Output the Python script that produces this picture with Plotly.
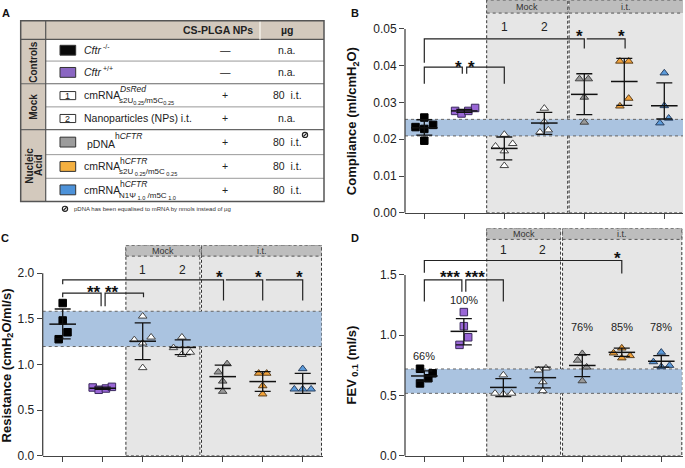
import plotly.graph_objects as go

W, H = 685, 468
FONT = "Liberation Sans, Arial, sans-serif"

# ---------------- data ----------------
group_x = [0, 1, 2, 3, 4, 5, 6]
group_names = ["Cftr-/-", "Cftr+/+", "Mock 1", "Mock 2", "pDNA hCFTR",
               "cmRNA hCFTR s2U/m5C", "cmRNA hCFTR N1Psi/m5C"]

# Panel B - compliance (ml/cmH2O)
comp_ko = [0.0259, 0.0233, 0.0228, 0.0239, 0.0196]
comp_wt = [0.0277, 0.0270, 0.0277, 0.0285]
comp_mock1 = [0.0213, 0.0188, 0.0181, 0.0168, 0.0128]
comp_mock2 = [0.0284, 0.0247, 0.0219, 0.0225]
comp_pdna = [0.0364, 0.0364, 0.0314, 0.0246]
comp_s2u = [0.0412, 0.0412, 0.0311, 0.0290]
comp_n1 = [0.0380, 0.0291, 0.0257, 0.0244]
comp_mean = [0.0231, 0.0277, 0.0175, 0.0244, 0.0322, 0.0357, 0.0291]
comp_upper = [0.0253, 0.0281, 0.0206, 0.0273, 0.0378, 0.0420, 0.0353]
comp_lower = [0.0211, 0.0273, 0.0144, 0.0213, 0.0267, 0.0292, 0.0255]
comp_band = [0.0209, 0.0254]
comp_ticks = [0.0, 0.01, 0.02, 0.03, 0.04, 0.05]

# Panel C - resistance (cmH2O/ml/s)
res_ko = [1.673, 1.482, 1.353, 1.277]
res_wt = [0.748, 0.723, 0.737, 0.755]
res_mock1 = [1.529, 1.270, 1.234, 1.299, 0.964]
res_mock2 = [1.299, 1.183, 1.108, 1.133]
res_pdna = [1.007, 0.917, 0.817, 0.705]
res_s2u = [0.903, 0.903, 0.766, 0.676]
res_n1 = [0.953, 0.730, 0.730, 0.730]
res_mean = [1.442, 0.740, 1.255, 1.187, 0.867, 0.813, 0.791]
res_upper = [1.608, 0.752, 1.457, 1.270, 0.993, 0.921, 0.903]
res_lower = [1.281, 0.728, 1.054, 1.108, 0.737, 0.705, 0.683]
res_band = [1.197, 1.583]
res_ticks = [0.0, 0.5, 1.0, 1.5, 2.0]

# Panel D - FEV0.1 (ml/s)
fev_ko = [0.722, 0.684, 0.643, 0.600]
fev_wt = [1.192, 1.075, 0.983, 0.920]
fev_mock1 = [0.670, 0.518, 0.513, 0.518]
fev_mock2 = [0.711, 0.727, 0.613, 0.539]
fev_pdna = [0.847, 0.792, 0.735, 0.621]
fev_s2u = [0.893, 0.852, 0.830, 0.811]
fev_n1 = [0.858, 0.779, 0.749, 0.738]
fev_mean = [0.662, 1.032, 0.567, 0.648, 0.749, 0.858, 0.784]
fev_upper = [0.705, 1.138, 0.640, 0.735, 0.839, 0.893, 0.830]
fev_lower = [0.620, 0.920, 0.490, 0.564, 0.656, 0.825, 0.735]
fev_band = [0.518, 0.720]
fev_ticks = [0.0, 0.5, 1.0, 1.5]
fev_pct = ["66%", "100%", "", "", "76%", "85%", "78%"]

# Table (panel A)
row_base = ["<i>Cftr</i>", "<i>Cftr</i>", "cmRNA", "Nanoparticles (NPs) i.t.", "pDNA", "cmRNA", "cmRNA"]
row_sup = ["-/-", "+/+", "<i>DsRed</i>", "", "h<i>CFTR</i>", "h<i>CFTR</i>", "h<i>CFTR</i>"]
row_sub = ["", "", "s2U<sub>0.25</sub>/m5C<sub>0.25</sub>", "", "",
           "s2U<sub> 0.25</sub>/m5C<sub> 0.25</sub>", "N1\u03a8<sub> 1.0</sub> /m5C<sub> 1.0</sub>"]
row_nps = ["\u2014", "\u2014", "+", "+", "+", "+", "+"]
row_ug = ["n.a.", "n.a.", "80  i.t.", "n.a.", "80  i.t.", "80  i.t.", "80  i.t."]
row_swatch = ["#0a0a0a", "#8a66c2", "1", "2", "#9c9c9c", "#f4b040", "#4d92d9"]
footnote = "pDNA has been equalised to mRNA by nmols instead of \u00b5g"

# ---------------- style ----------------
marker_styles = [
    dict(symbol="square", color="#000000", line="#000000", size=7.5),
    dict(symbol="square", color="#9966d6", line="#3b2a5e", size=7.5),
    dict(symbol="triangle-up", color="#ffffff", line="#444444", size=7.5),
    dict(symbol="triangle-up", color="#ffffff", line="#444444", size=7.5),
    dict(symbol="triangle-up", color="#999999", line="#444444", size=7.5),
    dict(symbol="triangle-up", color="#f2a23a", line="#5a4020", size=7.5),
    dict(symbol="triangle-up", color="#5b9bdb", line="#2a4060", size=7.5),
]
comp_jit = [[0, -0.22, 0, 0.22, 0], [-0.23, -0.07, 0.1, 0.27], [0, 0.21, -0.22, 0, 0],
            [0, 0, -0.11, 0.1], [-0.12, 0.1, 0, 0], [-0.11, 0.11, 0.11, -0.11], [0, 0, 0.11, -0.11]]
res_jit = [[0, 0, 0.12, -0.1], [-0.25, -0.1, 0.08, 0.23], [0, -0.21, 0, 0.21, 0],
           [-0.02, -0.23, -0.02, 0.19], [0.11, -0.11, 0, 0], [-0.1, 0.1, 0, 0], [0, -0.21, 0, 0.21]]
fev_jit = [[-0.11, 0.21, 0.1, -0.11], [0, 0, 0.11, -0.11], [0, -0.21, 0, 0.21],
           [-0.11, 0.08, 0, 0], [0, -0.12, 0.11, 0], [0, -0.21, 0.21, 0], [0, -0.2, 0.21, 0]]
REGION_DASH = "3px,2px"


def fx(p):
    return p / W


def fy(p):
    return 1 - p / H


panels = [
    dict(key="B", xa="x", ya="y", px_x=(405, 683), px_y=(0, 216), xr=[-0.4825, 6.4675],
         yr=[0, 0.05786], ticks=comp_ticks, fmt=".2f", mock=(1.56, 3.585), it=(3.62, 6.52),
         hdr=0.0543, band=comp_band, lbl_y=0.0505,
         data=[comp_ko, comp_wt, comp_mock1, comp_mock2, comp_pdna, comp_s2u, comp_n1],
         jit=comp_jit, mean=comp_mean, up=comp_upper, lo=comp_lower,
         brackets=[(0, 4.0, 0.0473, 0.0408, 0.0447), (4.06, 5.02, 0.0473, 0.0473, 0.0447),
                   (0, 0.95, 0.0396, 0.0351, 0.0378), (1.06, 2.0, 0.0396, 0.0378, 0.0351)],
         stars=[(3.89, 0.0492, "*"), (4.92, 0.0492, "*"), (0.85, 0.0409, "*"), (1.17, 0.0409, "*")],
         title="<b>Compliance (ml/cmH<sub>2</sub>O)</b>", title_xy=(352, 123),
         letter=(355, 12.7)),
    dict(key="C", xa="x2", ya="y2", px_x=(42.7, 322.7), px_y=(249, 462.7), xr=[-0.5, 6.5],
         yr=[0, 2.306], ticks=res_ticks, fmt=".1f", mock=(1.58, 3.43), it=(3.47, 6.47),
         hdr=2.187, band=res_band, lbl_y=2.04,
         data=[res_ko, res_wt, res_mock1, res_mock2, res_pdna, res_s2u, res_n1],
         jit=res_jit, mean=res_mean, up=res_upper, lo=res_lower,
         brackets=[(0, 4.02, 1.928, 1.88, 1.70), (4.08, 5.0, 1.928, 1.928, 1.70),
                   (5.08, 6.0, 1.928, 1.928, 1.70),
                   (0, 0.96, 1.781, 1.737, 1.637), (1.06, 2.02, 1.781, 1.637, 1.737)],
         stars=[(3.93, 2.007, "*"), (4.9, 2.007, "*"), (5.93, 2.007, "*"),
                (0.79, 1.845, "**"), (1.23, 1.845, "**")],
         title="<b>Resistance (cmH<sub>2</sub>O/ml/s)</b>", title_xy=(7, 371),
         letter=(5, 241.7)),
    dict(key="D", xa="x3", ya="y3", px_x=(405, 683), px_y=(232, 462.7), xr=[-0.49, 6.55],
         yr=[0, 1.885], ticks=fev_ticks, fmt=".1f", mock=(1.58, 3.45), it=(3.50, 6.52),
         hdr=1.795, band=fev_band, lbl_y=1.71,
         data=[fev_ko, fev_wt, fev_mock1, fev_mock2, fev_pdna, fev_s2u, fev_n1],
         jit=fev_jit, mean=fev_mean, up=fev_upper, lo=fev_lower,
         brackets=[(0, 5.0, 1.62, 1.519, 1.511), (0, 0.95, 1.459, 1.28, 1.361),
                   (1.05, 2.0, 1.459, 1.361, 1.28)],
         stars=[(4.9, 1.674, "*"), (0.65, 1.519, "***"), (1.28, 1.519, "***")],
         title="<b>FEV<sub> 0.1</sub> (ml/s)</b>", title_xy=(352, 371),
         letter=(355, 241.7)),
]

fig = go.Figure()
shapes, annots = [], []
layout_axes = {}

for p in panels:
    xa, ya = p["xa"], p["ya"]
    xname = "xaxis" + xa[1:]
    yname = "yaxis" + ya[1:]
    layout_axes[xname] = dict(domain=[fx(p["px_x"][0]), fx(p["px_x"][1])], range=p["xr"], anchor=ya,
                              showgrid=False, zeroline=False, showline=True, linecolor="#444",
                              linewidth=1.3, ticks="outside", ticklen=5, tickwidth=1.2, tickcolor="#444",
                              tickvals=group_x, showticklabels=False, fixedrange=True)
    layout_axes[yname] = dict(domain=[fy(p["px_y"][1]), fy(p["px_y"][0])], range=p["yr"], anchor=xa,
                              showgrid=False, zeroline=False, showline=False, ticks="outside",
                              ticklen=5, tickwidth=1.2, tickcolor="#444", tickvals=p["ticks"],
                              tickformat=p["fmt"], tickfont=dict(size=12, color="#222", family=FONT),
                              fixedrange=True)
    ytop_v = p["yr"][1]
    # grey treatment regions
    for (r0, r1), lab in [(p["mock"], "Mock"), (p["it"], "i.t.")]:
        shapes.append(dict(type="rect", xref=xa, yref=ya, x0=r0, x1=r1, y0=0, y1=ytop_v,
                           fillcolor="#e6e6e6", line=dict(color="#333", width=1, dash=REGION_DASH),
                           layer="below"))
        shapes.append(dict(type="rect", xref=xa, yref=ya, x0=r0, x1=r1, y0=p["hdr"], y1=ytop_v,
                           fillcolor="#bdbdbd", line=dict(color="#555", width=1, dash="dot"), layer="below"))
        annots.append(dict(x=(r0 + min(r1, p["xr"][1])) / 2, y=(p["hdr"] + ytop_v) / 2, xref=xa, yref=ya,
                           xanchor="center", yanchor="middle",
                           text=lab, showarrow=False, font=dict(size=9, color="#333", family=FONT)))
    # reference band
    b0, b1 = p["band"]
    bx1 = p["it"][1]
    shapes.append(dict(type="rect", xref=xa, yref=ya, x0=p["xr"][0], x1=bx1, y0=b0, y1=b1,
                       fillcolor="#aac3e0", line=dict(width=0), layer="below"))
    for yy in (b0, b1):
        shapes.append(dict(type="line", xref=xa, yref=ya, x0=p["xr"][0], x1=bx1, y0=yy, y1=yy,
                           line=dict(color="#666", width=1, dash="dot"), layer="below"))
    # y-axis line up to top tick
    x0px = p["px_x"][0]
    ybot, ytp = p["px_y"][1], p["px_y"][0]
    top_px = ybot - (p["ticks"][-1] - p["yr"][0]) / (p["yr"][1] - p["yr"][0]) * (ybot - ytp)
    shapes.append(dict(type="line", xref="paper", yref="paper", x0=fx(x0px), x1=fx(x0px),
                       y0=fy(ybot), y1=fy(top_px), line=dict(color="#444", width=1.3)))
    # mock numbers
    for gx, t in [(2, "1"), (3, "2")]:
        annots.append(dict(x=gx, y=p["lbl_y"], xref=xa, yref=ya, text=t, showarrow=False,
                           xanchor="center", yanchor="middle",
                           font=dict(size=12, color="#222", family=FONT)))
    # points
    for i in range(7):
        st = marker_styles[i]
        xs = [group_x[i] + j for j in p["jit"][i]]
        fig.add_trace(go.Scatter(x=xs, y=p["data"][i], mode="markers", xaxis=xa, yaxis=ya,
                                 name=group_names[i], showlegend=False, cliponaxis=False,
                                 marker=dict(symbol=st["symbol"], size=st["size"], color=st["color"],
                                             line=dict(color=st["line"], width=1))))
    # mean and error bars
    fig.add_trace(go.Scatter(x=group_x, y=p["mean"], mode="markers", xaxis=xa, yaxis=ya, showlegend=False,
                             cliponaxis=False,
                             marker=dict(symbol="line-ew", size=19, color="#111",
                                         line=dict(color="#111", width=1.5)),
                             error_y=dict(type="data", symmetric=False,
                                          array=[u - m for u, m in zip(p["up"], p["mean"])],
                                          arrayminus=[m - l for m, l in zip(p["mean"], p["lo"])],
                                          color="#111", thickness=1.3, width=8)))
    # significance brackets
    for (bx0, bx1_, by, yl, yr_) in p["brackets"]:
        path = f"M {bx0},{yl} L {bx0},{by} L {bx1_},{by} L {bx1_},{yr_}"
        shapes.append(dict(type="path", xref=xa, yref=ya, path=path, line=dict(color="#222", width=1.2)))
    for sx, sy, st in p["stars"]:
        annots.append(dict(x=sx, y=sy, xref=xa, yref=ya, text=f"<b>{st}</b>", showarrow=False, yshift=-5,
                           xanchor="center", yanchor="middle",
                           font=dict(size=17, color="#111", family=FONT)))
    # axis title
    tx, ty = p["title_xy"]
    annots.append(dict(x=fx(tx), y=fy(ty), xref="paper", yref="paper", text=p["title"], textangle=-90,
                       xanchor="center", yanchor="middle",
                       showarrow=False, font=dict(size=13, color="#111", family=FONT)))
    lx, ly = p["letter"]
    annots.append(dict(x=fx(lx), y=fy(ly), xref="paper", yref="paper", text=f"<b>{p['key']}</b>",
                       xanchor="center", yanchor="middle",
                       showarrow=False, font=dict(size=11, color="#111", family=FONT)))

# percentages (panel D)
for gx, t in zip(group_x, fev_pct):
    if not t:
        continue
    yv = 0.83 if t == "66%" else (1.288 if t == "100%" else 1.07)
    annots.append(dict(x=gx, y=yv, xref="x3", yref="y3", text=t, showarrow=False,
                       xanchor="center", yanchor="middle",
                       font=dict(size=11, color="#222", family=FONT)))

# ---------------- panel A table ----------------
TL, TR, TT, TB = 20.7, 324, 21, 204.5
CS = 45.7
edges = [40, 62, 85, 108.5, 131.5, 157, 181, 204.5]
TAN = "#d3c9bd"


def prect(x0, y0, x1, y1, fill, lc=None, lw=0):
    shapes.append(dict(type="rect", xref="paper", yref="paper", x0=fx(x0), x1=fx(x1), y0=fy(y1), y1=fy(y0),
                       fillcolor=fill, line=dict(color=lc or fill, width=lw)))


def pline(x0, y0, x1, y1, c, w=1):
    shapes.append(dict(type="line", xref="paper", yref="paper", x0=fx(x0), x1=fx(x1), y0=fy(y0), y1=fy(y1),
                       line=dict(color=c, width=w)))


def ptext(x, y, t, size=10, anchor="left", color="#222", angle=0):
    annots.append(dict(x=fx(x), y=fy(y), xref="paper", yref="paper", text=t, showarrow=False,
                       xanchor=anchor, yanchor="middle", textangle=angle,
                       font=dict(size=size, color=color, family=FONT)))


def no_mass_icon(cx, cy):
    # small circle with a slash, as in the footnote marker
    shapes.append(dict(type="circle", xref="paper", yref="paper", x0=fx(cx - 2.6), x1=fx(cx + 2.6),
                       y0=fy(cy + 2.6), y1=fy(cy - 2.6), line=dict(color="#222", width=1.2)))
    pline(cx - 1.6, cy + 1.6, cx + 1.6, cy - 1.6, "#222", 1.2)


prect(TL, TT, TR, edges[0], TAN)
prect(TL, edges[0], CS, TB, TAN)
for e in edges[1:-1]:
    if e in (85, 131.5):
        pline(TL, e, TR, e, "#666", 1.2)
    else:
        pline(CS, e, TR, e, "#999", 1)
pline(TL, edges[0], TR, edges[0], "#555", 1.3)
pline(CS, TT, CS, TB, "#555", 1.2)
pline(260, TT, 260, edges[0], "#f3efe9", 1.5)
shapes.append(dict(type="rect", xref="paper", yref="paper", x0=fx(TL), x1=fx(TR), y0=fy(TB), y1=fy(TT),
                   line=dict(color="#555", width=1.5)))

ptext(218, 30.5, "<b>CS-PLGA NPs</b>", 10.5, "center", "#222")
ptext(287, 30.5, "<b>\u00b5g</b>", 10.5, "center", "#222")
ptext(33.2, 62.5, "<b>Controls</b>", 10, "center", "#222", -90)
ptext(33.2, 108.2, "<b>Mock</b>", 10, "center", "#222", -90)
ptext(29.3, 168, "<b>Nucleic</b>", 10, "center", "#222", -90)
ptext(38.5, 168, "<b>Acid</b>", 10, "center", "#222", -90)

for i in range(7):
    cy = (edges[i] + edges[i + 1]) / 2
    sw = row_swatch[i]
    if sw.startswith("#"):
        prect(60, cy - 5, 75.7, cy + 5, sw, "#333", 1)
    else:
        prect(60, cy - 3.8, 75.7, cy + 4.4, "#ffffff", "#333", 1)
        ptext(67.9, cy + 0.3, sw, 9, "center", "#222")
    base = row_base[i]
    if i in (0, 1):
        ptext(82.3, cy, base, 10.5)
        ptext(100.5, cy - 3.5, row_sup[i], 7)
    elif i == 3:
        ptext(82.3, cy, base, 10.5)
    elif i == 4:
        ptext(85, cy + 2, base, 10.5)
        ptext(113, cy - 6.5, row_sup[i], 8.5)
    else:
        ptext(82.3, cy, base, 10.5)
        ptext(118, cy - 6, row_sup[i], 8.5)
        ptext(117.3, cy + 6, row_sub[i], 8)
    ptext(225, cy, row_nps[i], 10.5, "center")
    ptext(287, cy, row_ug[i], 10.5, "center")

no_mass_icon(305, edges[4] + 5.5)
no_mass_icon(65, 212)
ptext(71.5, 212, footnote, 6, "left", "#333")
ptext(6, 12.7, "<b>A</b>", 11, "center", "#111")

fig.update_layout(width=W, height=H, margin=dict(l=0, r=0, t=0, b=0), autosize=False,
                  paper_bgcolor="white", plot_bgcolor="rgba(0,0,0,0)", showlegend=False,
                  font=dict(family=FONT, color="#222"), shapes=shapes, annotations=annots,
                  **layout_axes)
fig.write_html("out.html", config={"displayModeBar": False},
               post_script="document.body.style.margin='0px';")
